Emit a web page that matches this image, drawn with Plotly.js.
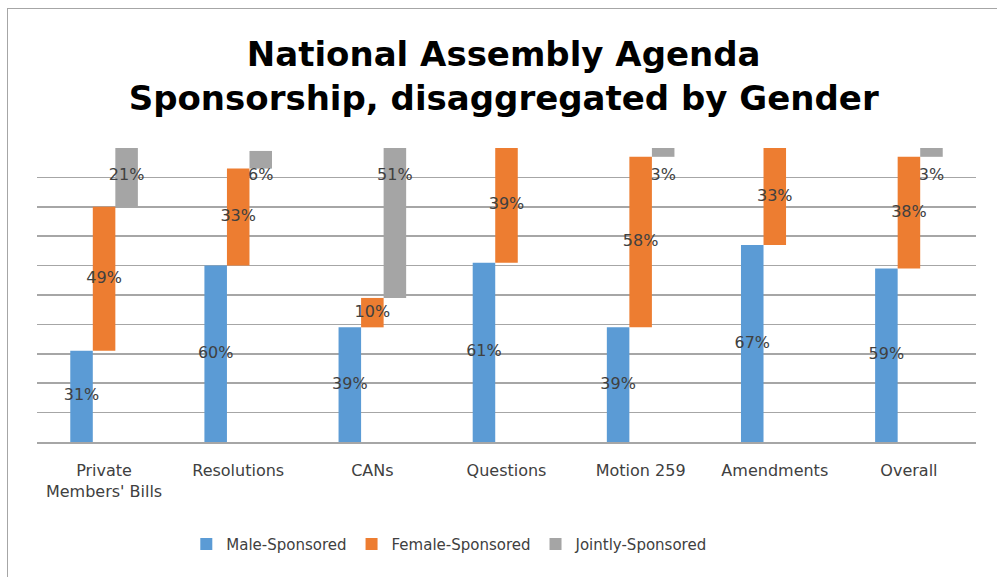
<!DOCTYPE html>
<html>
<head>
<meta charset="utf-8">
<script src="https://cdn.plot.ly/plotly-3.0.1.min.js"></script>
<style>
  html, body { margin: 0; padding: 0; background: #ffffff; overflow: hidden; }
  #chart { width: 997px; height: 577px; }
  #frame { position: absolute; left: 7px; top: 8px; width: 1200px; height: 800px;
           border-left: 1px solid #a6a6a6; border-top: 1px solid #a6a6a6; pointer-events: none; }
</style>
</head>
<body>
<div id="chart"></div>
<div id="frame"></div>
<script>
const categories = ["Private<br>Members' Bills", "Resolutions", "CANs", "Questions", "Motion 259", "Amendments", "Overall"];
const maleSponsored = [31, 60, 39, 61, 39, 67, 59];
const femaleSponsored = [49, 33, 10, 39, 58, 33, 38];
const jointlySponsored = [21, 6, 51, 0, 3, 0, 3];
const seriesNames = ["Male-Sponsored", "Female-Sponsored", "Jointly-Sponsored"];
const seriesColors = ["#5B9BD5", "#ED7D31", "#A5A5A5"];

const idx = categories.map((c, i) => i);
const barW = 0.168;
const jointLabelLevel = 90.5;

const femaleBase = maleSponsored.slice();
const jointBase = maleSponsored.map((m, i) => m + femaleSponsored[i]);
const pct = v => v > 0 ? v + '%' : '';

const bars = [
  { values: maleSponsored, base: idx.map(() => 0), offset: -1.5 * barW },
  { values: femaleSponsored, base: femaleBase, offset: -0.5 * barW },
  { values: jointlySponsored, base: jointBase, offset: 0.5 * barW }
].map((s, k) => ({
  type: 'bar',
  name: seriesNames[k],
  x: idx,
  y: s.values,
  base: s.base,
  offset: s.offset,
  width: barW,
  marker: { color: seriesColors[k], line: { width: 0 } },
  hoverinfo: 'skip'
}));

const labelFont = { family: 'DejaVu Sans', size: 16, color: '#404040' };
const labels = [
  { x: idx.map(i => i - barW), y: maleSponsored.map(v => v / 2), t: maleSponsored.map(pct) },
  { x: idx.slice(), y: femaleSponsored.map((v, i) => femaleBase[i] + v / 2), t: femaleSponsored.map(pct) },
  { x: idx.map(i => i + barW), y: jointlySponsored.map(() => jointLabelLevel), t: jointlySponsored.map(pct) }
].map(s => ({
  type: 'scatter',
  mode: 'text',
  x: s.x,
  y: s.y,
  text: s.t,
  textposition: 'middle center',
  textfont: labelFont,
  showlegend: false,
  hoverinfo: 'skip',
  cliponaxis: false
}));

const layout = {
  width: 997,
  height: 577,
  paper_bgcolor: '#ffffff',
  plot_bgcolor: '#ffffff',
  margin: { l: 37, r: 21, t: 148, b: 135 },
  font: { family: 'DejaVu Sans', color: '#404040' },
  barmode: 'overlay',
  showlegend: true,
  title: {
    text: 'National Assembly Agenda<br>Sponsorship, disaggregated by Gender',
    font: { family: 'DejaVu Sans', size: 34, weight: 'bold', color: '#000000' },
    x: 0.497, xref: 'paper', xanchor: 'center',
    y: 1 - 66 / 577, yref: 'container', yanchor: 'middle'
  },
  xaxis: {
    range: [-0.5, 6.5],
    tickmode: 'array',
    tickvals: idx,
    ticktext: categories,
    showgrid: false,
    zeroline: false,
    showline: true,
    linecolor: '#a6a6a6',
    linewidth: 1.5,
    ticks: '',
    ticklabelstandoff: 13,
    tickfont: { family: 'DejaVu Sans', size: 16, color: '#404040' },
    fixedrange: true
  },
  yaxis: {
    range: [0, 100],
    dtick: 10,
    tick0: 0,
    showticklabels: false,
    showgrid: true,
    gridcolor: '#a6a6a6',
    gridwidth: 1.5,
    zeroline: false,
    showline: false,
    ticks: '',
    fixedrange: true
  },
  legend: {
    orientation: 'h',
    x: 0.159, xanchor: 'left',
    y: -0.348, yanchor: 'middle',
    font: { family: 'DejaVu Sans', size: 15, color: '#404040' },
    itemclick: false,
    itemdoubleclick: false
  }
};

Plotly.newPlot('chart', bars.concat(labels), layout, { displayModeBar: false, staticPlot: true });
</script>
</body>
</html>
